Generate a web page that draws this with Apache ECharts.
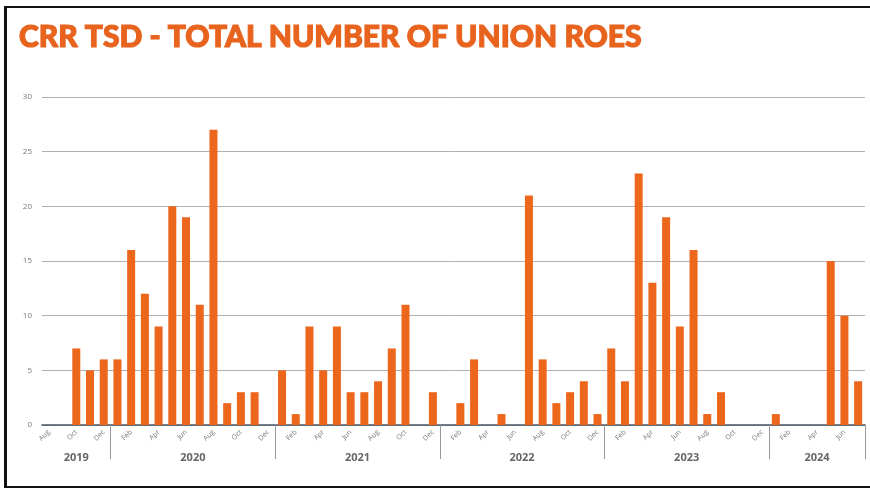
<!DOCTYPE html>
<html>
<head>
<meta charset="utf-8">
<script src="https://cdn.jsdelivr.net/npm/echarts@6/dist/echarts.min.js"></script>
<style>
html,body{margin:0;padding:0;background:#fff;}
#wrap{position:relative;width:870px;height:489px;}
#chart{position:absolute;left:0;top:0;width:870px;height:489px;}
#frame{position:absolute;left:4px;top:6px;width:880px;height:478px;border-top:2px solid #111;border-left:3px solid #111;border-bottom:2px solid #111;pointer-events:none;}
</style>
</head>
<body>
<div id="wrap"><div id="chart"></div><div id="frame"></div></div>
<script>
// Data
var monthNames = ['Jan','Feb','Mar','Apr','May','Jun','Jul','Aug','Sep','Oct','Nov','Dec'];
var years = [2019, 2020, 2021, 2022, 2023, 2024];
var firstMonth2019 = 8;   // Aug 2019
var lastMonth2024 = 7;    // Jul 2024
var values2019 = [0, 0, 7, 5, 6];
var values2020 = [6, 16, 12, 9, 20, 19, 11, 27, 2, 3, 3, 0];
var values2021 = [5, 1, 9, 5, 9, 3, 3, 4, 7, 11, 0, 3];
var values2022 = [0, 2, 6, 0, 1, 0, 21, 6, 2, 3, 4, 1];
var values2023 = [7, 4, 23, 13, 19, 9, 16, 1, 3, 0, 0, 0];
var values2024 = [1, 0, 0, 0, 15, 10, 4];
var yTicks = [0, 5, 10, 15, 20, 25, 30];
var titleText = 'CRR TSD - TOTAL NUMBER OF UNION ROES';

// Build categories
var allValues = [].concat(values2019, values2020, values2021, values2022, values2023, values2024);
var monthCats = [], yearCats = [];
var yearStart = {}, yearEnd = {};
(function(){
  var yearVals = [values2019, values2020, values2021, values2022, values2023, values2024];
  years.forEach(function(y, yi){
    var startM = (yi === 0) ? firstMonth2019 : 1;
    var n = yearVals[yi].length;
    yearStart[y] = monthCats.length;
    for (var k = 0; k < n; k++) {
      monthCats.push(monthNames[startM - 1 + k]);
      yearCats.push(String(y));
    }
    yearEnd[y] = monthCats.length - 1;
  });
})();

var gridLeft = 42, gridRight = 5;
var catW = (870 - gridLeft - gridRight) / monthCats.length;

var labelIdx = {};
years.forEach(function(y){
  var c = (yearStart[y] + yearEnd[y]) / 2;
  labelIdx[Math.floor(c)] = (c % 1 !== 0);
});

var chart = echarts.init(document.getElementById('chart'), null, {renderer:'canvas'});
chart.setOption({
  animation: false,
  backgroundColor: 'transparent',
  title: {
    text: titleText,
    left: 14, top: 17,
    textStyle: {fontFamily: 'Lato', fontWeight: 900, fontSize: 30, color: '#E8641E',
      textBorderColor: '#E8641E', textBorderWidth: 1.2}
  },
  grid: {left: gridLeft, right: gridRight, top: 97, bottom: 64, containLabel: false},
  xAxis: [{
    type: 'category',
    data: monthCats,
    axisLine: {lineStyle: {color: '#4a5563', width: 1.5}},
    axisTick: {show: false},
    axisLabel: {
      interval: 1, rotate: 45, fontSize: 7, color: '#777', margin: 6,
      fontFamily: 'Open Sans'
    }
  }, {
    type: 'category',
    position: 'bottom',
    data: yearCats,
    axisLine: {show: false},
    axisTick: {
      show: true, length: 34, inside: false,
      interval: function(i){ return years.some(function(y){ return yearStart[y] === i && i !== 0; }); },
      lineStyle: {color: '#999', width: 1}
    },
    axisLabel: {
      interval: function(i){ return labelIdx.hasOwnProperty(i); },
      margin: 27, fontSize: 11, fontWeight: 'bold', color: '#666', fontFamily: 'Open Sans',
      formatter: function(v, i){ return labelIdx[i] ? '{s|' + v + '}' : '{n|' + v + '}'; },
      rich: {
        s: {padding: [0, 0, 0, catW], fontSize: 11, fontWeight: 'bold', color: '#666', fontFamily: 'Open Sans'},
        n: {fontSize: 11, fontWeight: 'bold', color: '#666', fontFamily: 'Open Sans'}
      }
    }
  }],
  yAxis: {
    type: 'value', min: yTicks[0], max: yTicks[yTicks.length - 1], interval: 5,
    axisLine: {show: false}, axisTick: {show: false},
    axisLabel: {fontSize: 8, color: '#777', margin: 10, fontFamily: 'Open Sans'},
    splitLine: {lineStyle: {color: '#b0b0b0', width: 1}}
  },
  series: [{
    type: 'bar',
    data: allValues,
    barWidth: 8,
    itemStyle: {color: '#EC661B'}
  }]
});
</script>
</body>
</html>
